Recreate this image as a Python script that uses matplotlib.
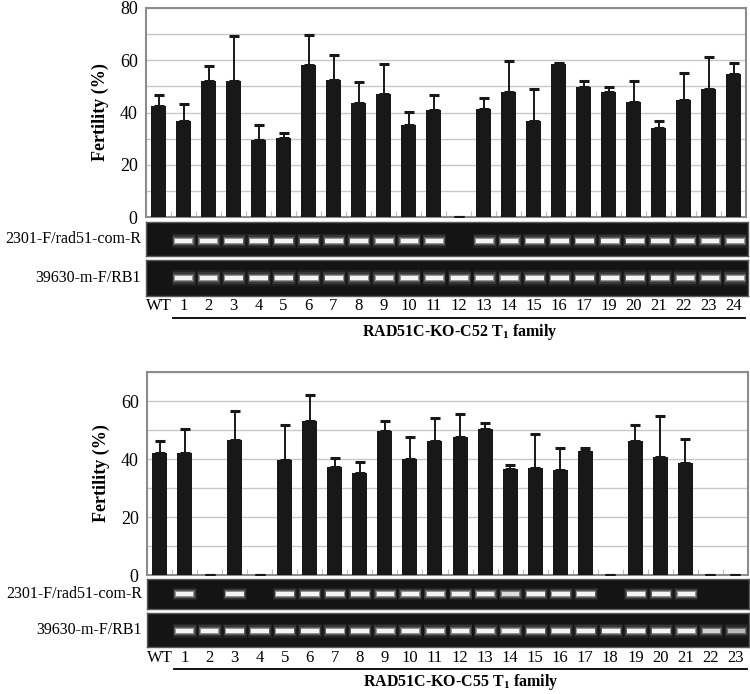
import numpy as np
import matplotlib
matplotlib.use("Agg")
import matplotlib.pyplot as plt

plt.rcParams['font.family'] = ['Liberation Serif', 'DejaVu Serif']
plt.rcParams['mathtext.fontset'] = 'custom'
plt.rcParams['mathtext.rm'] = 'Liberation Serif:bold'
plt.rcParams['mathtext.bf'] = 'Liberation Serif:bold'

# ---------------- data ----------------
lanes_c52 = ["WT", "1", "2", "3", "4", "5", "6", "7", "8", "9", "10", "11", "12",
             "13", "14", "15", "16", "17", "19", "20", "21", "22", "23", "24"]
fert_c52 = [42.4, 36.9, 51.9, 51.9, 29.4, 30.4, 58.0, 52.4, 43.5, 46.9, 35.4, 40.9, 0.0,
            41.4, 47.9, 36.9, 58.5, 49.9, 47.9, 43.9, 33.9, 44.9, 48.9, 54.9]
err_c52 = [4.2, 6.3, 5.8, 17.2, 5.7, 1.7, 11.7, 9.7, 8.0, 11.6, 4.7, 5.7, 0.0,
           4.2, 11.7, 12.2, 0.6, 2.1, 1.9, 8.1, 2.7, 10.2, 12.3, 4.2]
band1_c52 = [0, 1, 1, 1, 1, 1, 1, 1, 1, 1, 1, 1, 0, 1, 1, 1, 1, 1, 1, 1, 1, 1, 1, 1]
band2_c52 = [0, 1, 1, 1, 1, 1, 1, 1, 1, 1, 1, 1, 1, 1, 1, 1, 1, 1, 1, 1, 1, 1, 1, 1]

lanes_c55 = ["WT"] + [str(i) for i in range(1, 24)]
fert_c55 = [42.1, 42.1, 0.0, 46.6, 0.0, 39.6, 53.1, 37.3, 35.1, 49.5, 40.0, 46.1,
            47.5, 50.5, 36.5, 36.9, 36.1, 42.7, 0.0, 46.1, 40.8, 38.6, 0.0, 0.0]
err_c55 = [4.2, 8.1, 0.0, 9.8, 0.0, 12.1, 9.1, 3.2, 3.8, 3.5, 7.7, 8.0,
           8.1, 2.0, 1.6, 11.7, 7.6, 1.1, 0.0, 5.6, 13.9, 8.2, 0.0, 0.0]
band1_c55 = [0, 1, 0, 1, 0, 1, 1, 1, 1, 1, 1, 1, 1, 1, 0.8, 1, 1, 1, 0, 1, 1, 1, 0, 0]
band2_c55 = [0, 1, 1, 1, 1, 1, 1, 1, 1, 1, 1, 1, 1, 1, 1, 1, 1, 1, 1, 1, 1, 1, 0.75, 0.6]

gel_label1 = "2301-F/rad51-com-R"
gel_label2 = "39630-m-F/RB1"
family_c52 = r"RAD51C-KO-C52 T$_\mathrm{1}$ family"
family_c55 = r"RAD51C-KO-C55 T$_\mathrm{1}$ family"
ylabel = "Fertility (%)"

# ---------------- layout ----------------
W, H = 750, 694
fig = plt.figure(figsize=(W / 100, H / 100), dpi=100)


def px_axes(x0, y0, x1, y1):
    return fig.add_axes([x0 / W, 1 - y1 / H, (x1 - x0) / W, (y1 - y0) / H])


def bar_panel(x0, y0, x1, y1, vals, errs, ymax, ticks):
    ax = px_axes(x0, y0, x1, y1)
    n = len(vals)
    x = np.arange(n)
    ax.bar(x, vals, width=0.6, color='#181818', zorder=3)
    ax.errorbar(x, vals, yerr=[np.zeros(n), errs], fmt='none', ecolor='#181818',
                elinewidth=1.4, capsize=3.5, capthick=2.2, zorder=4)
    ax.set_xlim(-0.5, n - 0.5)
    ax.set_ylim(0, ymax)
    ax.set_yticks(np.arange(0, ymax + 1, 10))
    ax.set_yticklabels([str(int(t)) if int(t) in ticks else '' for t in np.arange(0, ymax + 1, 10)],
                       fontsize=13)
    ax.grid(axis='y', color='#c8c8c8', lw=1.0, zorder=0)
    ax.set_xticks(np.arange(0.5, n - 0.5, 1))
    ax.tick_params(axis='x', direction='in', length=4, color='#c0c0c0', labelbottom=False)
    ax.tick_params(axis='y', length=0, pad=6)
    for s in ax.spines.values():
        s.set_color('#8c8c8c')
        s.set_linewidth(1.5)
    ax.set_ylabel(ylabel, fontsize=13, fontweight='bold', labelpad=8)
    return ax


def gel_panel(x0, y0, x1, y1, bands, ypos, label):
    ax = px_axes(x0, y0, x1, y1)
    ax.set_facecolor('#141414')
    n = len(bands)
    ax.set_xlim(-0.5, n - 0.5)
    ax.set_ylim(0, 1)
    x = np.arange(n)
    b = np.asarray(bands, dtype=float)
    layers = [(0.95, 0.42, 0.06), (0.88, 0.32, 0.10), (0.82, 0.24, 0.18),
              (0.76, 0.18, 0.35), (0.70, 0.12, 0.9)]
    for w, h, a in layers:
        for xi, bi in zip(x, b):
            if bi > 0:
                ax.bar(xi, h, width=w, bottom=ypos - h / 2, color='white',
                       alpha=min(1, a * bi), lw=0)
    ax.set_xticks([])
    ax.set_yticks([])
    for s in ax.spines.values():
        s.set_color('#5a5a5a')
        s.set_linewidth(1)
    fig.text((x0 - 5) / W, 1 - ((y0 + y1) / 2) / H, label, ha='right', va='center', fontsize=11.5)
    return ax


def lane_labels(x0, x1, y, lanes, y_line, y_fam, fam):
    n = len(lanes)
    step = (x1 - x0) / n
    for i, lab in enumerate(lanes):
        fig.text((x0 + step * (i + 0.5)) / W, 1 - y / H, lab, ha='center', va='center', fontsize=12)
    lx0 = x0 + step * 1 + 2
    fig.add_artist(plt.Line2D([lx0 / W, (x1 - 1) / W], [1 - y_line / H] * 2, color='black', lw=1.3))
    fig.text(((lx0 + x1) / 2) / W, 1 - y_fam / H, fam, ha='center', va='center',
             fontsize=11.5, fontweight='bold')


# top panel (C52)
bar_panel(146, 8, 746, 217, fert_c52, err_c52, 80, [0, 20, 40, 60, 80])
gel_panel(146, 222, 748, 256, band1_c52, 0.45, gel_label1)
gel_panel(146, 260, 748, 296, band2_c52, 0.5, gel_label2)
lane_labels(146, 746, 306, lanes_c52, 318, 332, family_c52)

# bottom panel (C55)
bar_panel(147, 372, 748, 575, fert_c55, err_c55, 70, [0, 20, 40, 60])
gel_panel(147, 579, 749, 609, band1_c55, 0.5, gel_label1)
gel_panel(147, 613, 749, 647, band2_c55, 0.48, gel_label2)
lane_labels(147, 748, 658, lanes_c55, 669, 682, family_c55)

fig.savefig("out.png", dpi=100)
